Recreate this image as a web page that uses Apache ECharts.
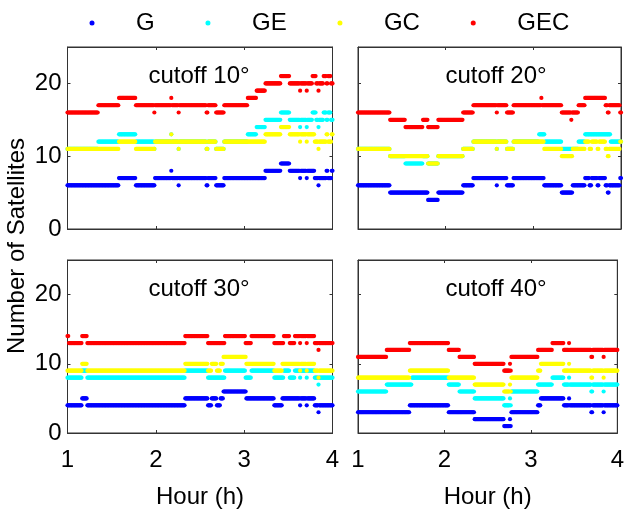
<!DOCTYPE html>
<html>
<head>
<meta charset="utf-8">
<script src="https://cdn.jsdelivr.net/npm/echarts@6/dist/echarts.min.js"></script>
<style>
html,body{margin:0;padding:0;background:#fff}
#chart{width:627px;height:510px}
</style>
</head>
<body>
<div id="chart"></div>
<script>
// Constellation combinations and their colours
const seriesNames = ['G', 'GE', 'GC', 'GEC'];
const seriesColors = ['#0000FF', '#00FFFF', '#FFFF00', '#FF0000'];
const panelTitles = ['cutoff 10°', 'cutoff 20°', 'cutoff 30°', 'cutoff 40°'];
const hourTicks = [1, 2, 3, 4];
const satTicks = [0, 10, 20];

// Visible satellite counts as steps: [hour the count starts, number of satellites]
// cutoff 10°
const g10 = [[1,6],[1.58,7],[1.77,6],[1.99,7],[2.17,8],[2.18,7],[2.255,6],[2.265,7],[2.575,6],[2.585,7],[2.68,6],[2.77,7],[3.235,8],[3.41,9],[3.51,8],[3.63,7],[3.64,8],[3.705,7],[3.715,8],[3.80,7],[3.84,6],[3.85,7],[3.93,8],[3.945,7],[3.985,8]];
const ge10 = [[1,11],[1.35,12],[1.58,13],[1.77,12],[1.98,11],[1.99,12],[2.17,13],[2.18,12],[2.255,11],[2.265,12],[2.575,11],[2.585,12],[2.68,11],[2.77,12],[3.04,13],[3.14,14],[3.235,15],[3.41,16],[3.51,15],[3.63,14],[3.64,15],[3.705,14],[3.715,15],[3.77,16],[3.81,15],[3.84,14],[3.85,15],[3.90,16],[3.93,15],[3.95,16],[3.98,15]];
const gc10 = [[1,11],[1.58,12],[1.77,11],[1.99,12],[2.17,13],[2.18,12],[2.255,11],[2.265,12],[2.575,11],[2.585,12],[2.68,11],[2.77,12],[3.235,13],[3.41,14],[3.51,13],[3.63,12],[3.64,13],[3.705,12],[3.715,13],[3.80,12],[3.84,11],[3.85,12],[3.93,13],[3.945,12],[3.985,13]];
const gec10 = [[1,16],[1.35,17],[1.58,18],[1.77,17],[1.98,16],[1.99,17],[2.17,18],[2.18,17],[2.255,16],[2.265,17],[2.575,16],[2.585,17],[2.68,16],[2.77,17],[3.04,18],[3.14,19],[3.235,20],[3.41,21],[3.51,20],[3.63,19],[3.64,20],[3.705,19],[3.715,20],[3.77,21],[3.81,20],[3.84,19],[3.85,20],[3.90,21],[3.93,20],[3.95,21],[3.98,20]];

// cutoff 20°
const g20 = [[1,6],[1.36,5],[1.80,4],[1.916,5],[2.2,6],[2.316,7],[2.58,6],[2.59,7],[2.696,6],[2.772,7],[3.12,6],[3.32,5],[3.45,6],[3.59,7],[3.64,6],[3.66,7],[3.73,6],[3.75,7],[3.82,6],[3.85,5],[3.86,6],[3.99,7]];
const ge20 = [[1,11],[1.36,10],[1.54,9],[1.74,10],[1.80,9],[1.916,10],[2.2,11],[2.316,12],[2.58,11],[2.59,12],[2.696,11],[2.772,12],[3.06,13],[3.13,12],[3.32,11],[3.51,12],[3.59,13],[3.88,12]];
const gc20 = [[1,11],[1.36,10],[1.80,9],[1.916,10],[2.2,11],[2.316,12],[2.58,11],[2.59,12],[2.696,11],[2.772,12],[3.12,11],[3.32,10],[3.45,11],[3.59,12],[3.64,11],[3.66,12],[3.73,11],[3.75,12],[3.82,11],[3.85,10],[3.86,11],[3.99,12]];
const gec20 = [[1,16],[1.36,15],[1.54,14],[1.74,15],[1.80,14],[1.916,15],[2.2,16],[2.316,17],[2.58,16],[2.59,17],[2.696,16],[2.772,17],[3.09,18],[3.10,17],[3.32,16],[3.43,15],[3.44,16],[3.51,17],[3.59,18],[3.82,17],[3.85,16],[3.86,17],[3.99,16]];

// cutoff 30°
const g30 = [[1,4],[1.16,5],[1.22,4],[2.33,5],[2.59,4],[2.63,5],[2.69,4],[2.73,5],[2.76,6],[3.02,5],[3.34,4],[3.43,5],[3.63,4],[3.64,5],[3.705,4],[3.715,5],[3.80,4],[3.84,3],[3.85,4]];
const ge30 = [[1,8],[1.16,9],[1.22,8],[2.33,9],[2.59,8],[2.78,9],[3.01,8],[3.08,9],[3.34,8],[3.45,9],[3.51,8],[3.57,9],[3.63,8],[3.64,9],[3.705,8],[3.715,9],[3.80,8],[3.84,7],[3.85,8]];
const gc30 = [[1,9],[1.16,10],[1.22,9],[2.33,10],[2.59,9],[2.63,10],[2.69,9],[2.73,10],[2.76,11],[3.02,10],[3.34,9],[3.43,10],[3.63,9],[3.64,10],[3.705,9],[3.715,10],[3.80,9],[3.84,8],[3.85,9]];
const gec30 = [[1,14],[1.01,13],[1.16,14],[1.22,13],[2.33,14],[2.59,13],[2.78,14],[3.01,13],[3.08,14],[3.34,13],[3.45,14],[3.51,13],[3.57,14],[3.63,13],[3.64,14],[3.705,13],[3.715,14],[3.80,13],[3.84,12],[3.85,13]];

// cutoff 40°
const g40 = [[1,3],[1.60,4],[2.05,3],[2.35,2],[2.685,1],[2.755,2],[2.765,1],[2.772,3],[3.08,4],[3.11,5],[3.38,4],[3.435,5],[3.445,4],[3.70,3],[3.71,4],[3.835,3],[3.845,4]];
const ge40 = [[1,6],[1.33,7],[1.62,8],[2.05,7],[2.17,6],[2.35,5],[2.685,4],[2.755,5],[2.765,4],[2.772,6],[3.08,7],[3.25,8],[3.38,7],[3.435,8],[3.445,7],[3.70,6],[3.71,7],[3.835,6],[3.845,7]];
const gc40 = [[1,8],[1.60,9],[2.05,8],[2.35,7],[2.685,6],[2.755,7],[2.765,6],[2.772,8],[3.08,9],[3.11,10],[3.38,9],[3.435,10],[3.445,9],[3.70,8],[3.71,9],[3.835,8],[3.845,9]];
const gec40 = [[1,11],[1.33,12],[1.60,13],[2.05,12],[2.17,11],[2.35,10],[2.685,9],[2.755,10],[2.765,9],[2.772,11],[3.08,12],[3.25,13],[3.38,12],[3.435,13],[3.445,12],[3.70,11],[3.71,12],[3.835,11],[3.845,12]];

const panelData = [
  [g10, ge10, gc10, gec10],
  [g20, ge20, gc20, gec20],
  [g30, ge30, gc30, gec30],
  [g40, ge40, gc40, gec40]
];

// 30-second epochs across the session
const EPOCH = 1 / 120;
function epochs(steps) {
  const out = [];
  let j = 0;
  const n = Math.round((hourTicks[hourTicks.length - 1] - hourTicks[0]) / EPOCH);
  for (let k = 0; k <= n; k++) {
    const t = hourTicks[0] + k * EPOCH;
    while (j + 1 < steps.length && steps[j + 1][0] <= t + 1e-9) j++;
    out.push([t, steps[j][1]]);
  }
  return out;
}

const FONT = "'Liberation Sans', Arial, Helvetica, sans-serif";
const AXIS_COLOR = '#333';
const grids = [
  { left: 67.5, top: 47, width: 265, height: 182 },
  { left: 358, top: 47, width: 263, height: 182 },
  { left: 67.5, top: 260, width: 265, height: 180 },
  { left: 358, top: 260, width: 263, height: 180 }
].map(g => Object.assign(g, { show: true, borderColor: AXIS_COLOR, borderWidth: 1, backgroundColor: 'transparent' }));
const titlePos = [[199, 76], [496, 76], [199, 289], [496, 289]];

const xAxes = [], yAxes = [], series = [], graphics = [];
grids.forEach((g, i) => {
  const bottomRow = i >= 2;
  const leftCol = i % 2 === 0;
  const axisBase = {
    gridIndex: i,
    type: 'value',
    axisLine: { show: true, onZero: false, lineStyle: { color: AXIS_COLOR, width: 1 } },
    axisTick: { show: true, inside: true, length: 3, lineStyle: { color: AXIS_COLOR } },
    splitLine: { show: false }
  };
  xAxes.push(Object.assign({}, axisBase, {
    position: 'bottom',
    min: hourTicks[0], max: hourTicks[hourTicks.length - 1], interval: 1,
    axisLabel: { show: bottomRow, fontSize: 24, fontFamily: FONT, color: '#000', margin: 15 },
    name: bottomRow ? 'Hour (h)' : '',
    nameLocation: 'middle',
    nameGap: 52,
    nameTextStyle: { fontSize: 24, fontFamily: FONT, color: '#000' }
  }));
  xAxes.push(Object.assign({}, axisBase, {
    position: 'top',
    min: hourTicks[0], max: hourTicks[hourTicks.length - 1], interval: 1,
    axisLabel: { show: false }
  }));
  yAxes.push(Object.assign({}, axisBase, {
    position: 'left',
    min: satTicks[0], max: 25, interval: 10,
    axisLabel: {
      show: leftCol, fontSize: 24, fontFamily: FONT, color: '#000', margin: 6,
      showMaxLabel: false,
      formatter: v => (satTicks.indexOf(v) >= 0 ? String(v) : '')
    }
  }));
  yAxes.push(Object.assign({}, axisBase, {
    position: 'right',
    min: satTicks[0], max: 25, interval: 10,
    axisLabel: { show: false }
  }));

  panelData[i].forEach((steps, s) => {
    series.push({
      name: seriesNames[s],
      type: 'scatter',
      xAxisIndex: i * 2,
      yAxisIndex: i * 2,
      symbol: 'circle',
      symbolSize: 4.2,
      itemStyle: { color: seriesColors[s], opacity: 1 },
      emphasis: { disabled: true },
      data: epochs(steps),
      z: 2 + s
    });
  });

  graphics.push({
    type: 'text',
    x: titlePos[i][0],
    y: titlePos[i][1],
    style: {
      text: panelTitles[i],
      font: '24px ' + FONT,
      fill: '#000',
      textAlign: 'center',
      textVerticalAlign: 'middle'
    },
    z: 10
  });
});

graphics.push({
  type: 'text',
  x: 17,
  y: 246,
  rotation: Math.PI / 2,
  style: {
    text: 'Number of Satellites',
    font: '24px ' + FONT,
    fill: '#000',
    textAlign: 'center',
    textVerticalAlign: 'middle'
  }
});

const chart = echarts.init(document.getElementById('chart'), null, { renderer: 'canvas' });
chart.setOption({
  backgroundColor: '#fff',
  animation: false,
  legend: {
    data: seriesNames,
    left: 84.5,
    top: 6,
    icon: 'circle',
    itemWidth: 5,
    itemHeight: 5,
    itemGap: 50.8,
    selectedMode: false,
    textStyle: { fontSize: 24, fontFamily: FONT, color: '#000', padding: [0, 0, 0, 36.5] }
  },
  grid: grids,
  xAxis: xAxes,
  yAxis: yAxes,
  series: series,
  graphic: graphics
});
</script>
</body>
</html>
